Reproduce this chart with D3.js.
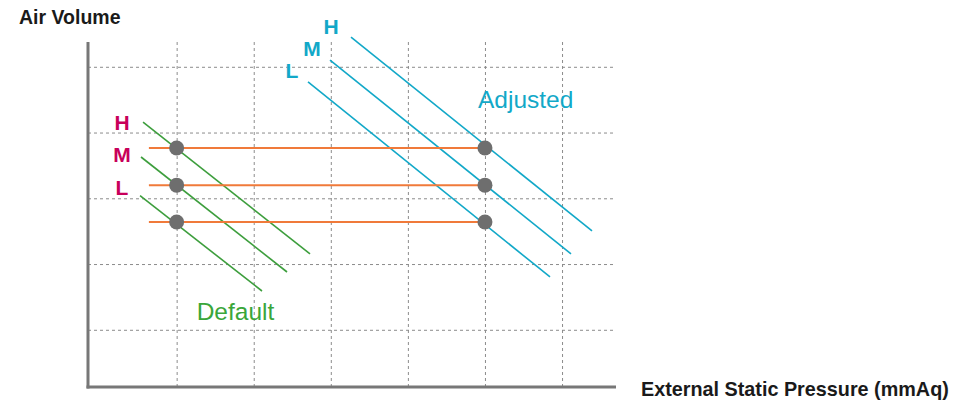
<!DOCTYPE html>
<html>
<head>
<meta charset="utf-8">
<script src="https://cdn.jsdelivr.net/npm/d3@7.9.0/dist/d3.min.js"></script>
<style>
  html, body { margin: 0; padding: 0; background: #fff; }
  svg { display: block; font-family: "Liberation Sans", Arial, sans-serif; }
  .grid line { stroke: #8c8c8c; stroke-dasharray: 3,3; stroke-width: 1; }
  .grid .domain { display: none; }
  .grid text { display: none; }
</style>
</head>
<body>
<svg id="chart" width="953" height="400"></svg>
<script>
// grid positions (data units)
const xGrid = [1, 2, 3, 4, 5, 6];
const yGrid = [1, 2, 3, 4, 5];

const levels = ["H", "M", "L"];

// operating points: air volume per fan level, at default / adjusted pressure
const pointY = [3.765, 3.2, 2.64];
const defaultX = 1;
const adjustedX = 5;
const orangeStartX = 0.64;

// fan curves [x1, y1, x2, y2]
const defaultCurves = [
  [0.564, 4.16, 2.73, 2.153],
  [0.538, 3.628, 2.432, 1.879],
  [0.525, 3.04, 2.107, 1.59],
];
const adjustedCurves = [
  [3.262, 5.453, 6.389, 2.503],
  [2.99, 5.103, 6.116, 2.153],
  [2.704, 4.769, 5.844, 1.803],
];

// label anchors (data units)
const defaultLabelPos = [[0.291, 4.039], [0.291, 3.552], [0.291, 3.05]];
const adjustedLabelPos = [[3.003, 5.494], [2.756, 5.164], [2.497, 4.837]];
const seriesNames = ["Default", "Adjusted"];
const seriesNamePos = [[1.26, 1.149], [4.91, 4.373]];

const colors = {
  axis: "#777777",
  orange: "#f07a3a",
  green: "#3d9e3d",
  greenText: "#3aa63a",
  blue: "#12a8c8",
  red: "#c8005a",
  point: "#6e6e6e",
};

const svg = d3.select("#chart");
const plotLeft = 88, plotRight = 616, plotTop = 42, plotBottom = 387;

const x = d3.scaleLinear().domain([-0.15, 6.7]).range([plotLeft, plotRight]);
const y = d3.scaleLinear().domain([0.13, 5.377]).range([plotBottom, plotTop]);

// gridlines
svg.append("g")
  .attr("class", "grid")
  .attr("transform", `translate(0,${plotBottom})`)
  .call(d3.axisBottom(x).tickValues(xGrid).tickSize(-(plotBottom - plotTop)).tickFormat(""));

svg.append("g")
  .attr("class", "grid")
  .attr("transform", `translate(${plotLeft},0)`)
  .call(d3.axisLeft(y).tickValues(yGrid).tickSize(-(plotRight - plotLeft)).tickFormat(""));

// axes
svg.append("line")
  .attr("x1", x.range()[0]).attr("x2", x.range()[0])
  .attr("y1", y.range()[1]).attr("y2", y.range()[0] + 1.5)
  .attr("stroke", colors.axis).attr("stroke-width", 3);
svg.append("line")
  .attr("x1", x.range()[0] - 1.5).attr("x2", x.range()[1])
  .attr("y1", y.range()[0]).attr("y2", y.range()[0])
  .attr("stroke", colors.axis).attr("stroke-width", 3);

// fan curves
svg.append("g").selectAll("line")
  .data(defaultCurves)
  .join("line")
  .attr("x1", (d) => x(d[0])).attr("y1", (d) => y(d[1]))
  .attr("x2", (d) => x(d[2])).attr("y2", (d) => y(d[3]))
  .attr("stroke", colors.green).attr("stroke-width", 1.6);

svg.append("g").selectAll("line")
  .data(adjustedCurves)
  .join("line")
  .attr("x1", (d) => x(d[0])).attr("y1", (d) => y(d[1]))
  .attr("x2", (d) => x(d[2])).attr("y2", (d) => y(d[3]))
  .attr("stroke", colors.blue).attr("stroke-width", 1.6);

// constant air volume lines
svg.append("g").selectAll("line")
  .data(pointY)
  .join("line")
  .attr("x1", x(orangeStartX)).attr("x2", x(adjustedX))
  .attr("y1", (d) => y(d)).attr("y2", (d) => y(d))
  .attr("stroke", colors.orange).attr("stroke-width", 2);

// operating points
const points = pointY.flatMap((v) => [[defaultX, v], [adjustedX, v]]);
svg.append("g").selectAll("circle")
  .data(points)
  .join("circle")
  .attr("cx", (d) => x(d[0])).attr("cy", (d) => y(d[1]))
  .attr("r", 7.5)
  .attr("fill", colors.point);

// level labels
svg.append("g").selectAll("text")
  .data(levels)
  .join("text")
  .attr("x", (d, i) => x(defaultLabelPos[i][0]))
  .attr("y", (d, i) => y(defaultLabelPos[i][1]))
  .attr("text-anchor", "middle")
  .attr("font-size", 21).attr("font-weight", "bold")
  .attr("fill", colors.red)
  .text((d) => d);

svg.append("g").selectAll("text")
  .data(levels)
  .join("text")
  .attr("x", (d, i) => x(adjustedLabelPos[i][0]))
  .attr("y", (d, i) => y(adjustedLabelPos[i][1]))
  .attr("text-anchor", "middle")
  .attr("font-size", 21).attr("font-weight", "bold")
  .attr("fill", colors.blue)
  .text((d) => d);

// series names
svg.append("g").selectAll("text")
  .data(seriesNames)
  .join("text")
  .attr("x", (d, i) => x(seriesNamePos[i][0]))
  .attr("y", (d, i) => y(seriesNamePos[i][1]))
  .attr("font-size", 24.5)
  .attr("fill", (d, i) => (i === 0 ? colors.greenText : colors.blue))
  .text((d) => d);

// axis titles
svg.append("text")
  .attr("x", 19).attr("y", 24)
  .attr("font-size", 19.5).attr("font-weight", "bold")
  .attr("fill", "#1a1a1a")
  .text("Air Volume");

svg.append("text")
  .attr("x", 641).attr("y", 396)
  .attr("font-size", 19.8).attr("font-weight", "bold")
  .attr("fill", "#1a1a1a")
  .text("External Static Pressure (mmAq)");
</script>
</body>
</html>
